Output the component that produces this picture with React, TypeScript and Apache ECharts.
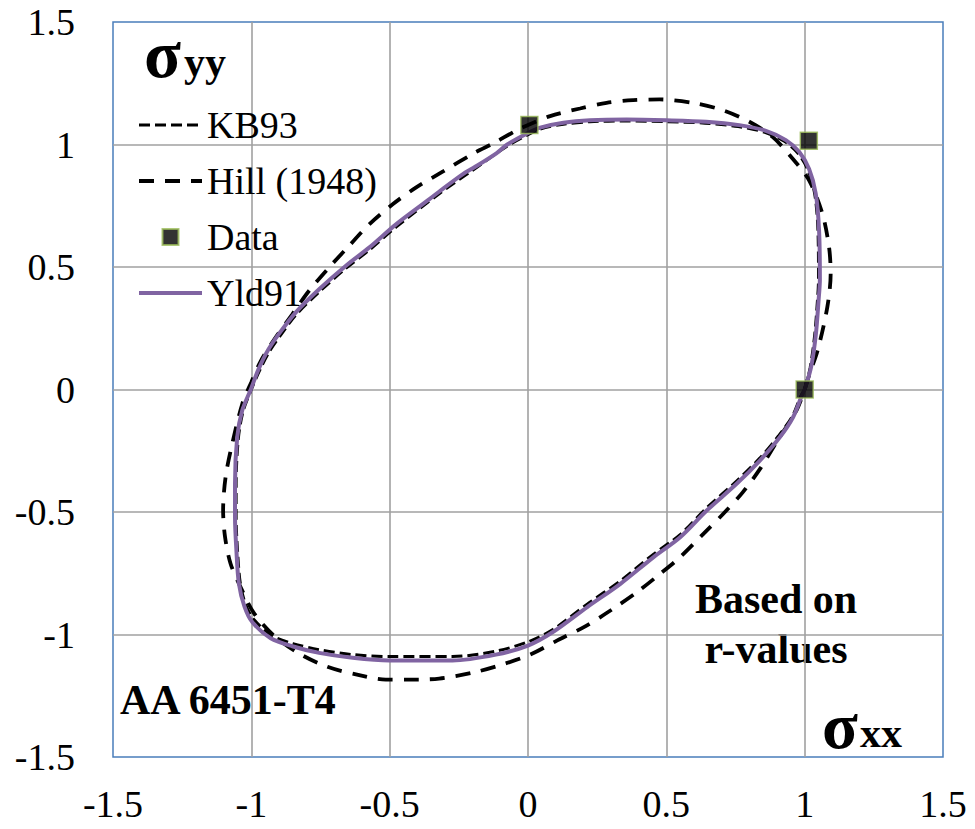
import React, { useEffect, useRef } from "react";
import * as echarts from "echarts";

// ---- data ----
const seriesNames = ["KB93", "Hill (1948)", "Data", "Yld91"];

const yld91: [number, number][] = [
  [1.0, 0.0], [1.023, 0.09], [1.04, 0.22], [1.05, 0.36], [1.055, 0.45],
  [1.052, 0.65], [1.04, 0.8], [1.016, 0.9], [0.98, 0.97], [0.932, 1.018],
  [0.86, 1.056], [0.764, 1.079], [0.644, 1.093], [0.5, 1.099], [0.356, 1.102],
  [0.224, 1.099], [0.128, 1.089], [0.044, 1.069], [0.0, 1.047], [-0.075, 1.0],
  [-0.113, 0.965], [-0.195, 0.906], [-0.234, 0.88], [-0.315, 0.813], [-0.355, 0.778],
  [-0.476, 0.675], [-0.573, 0.58], [-0.658, 0.505], [-0.755, 0.409], [-0.84, 0.314],
  [-0.895, 0.235], [-0.94, 0.16], [-0.975, 0.08], [-1.002, 0.0], [-1.033, -0.086],
  [-1.051, -0.194], [-1.059, -0.385], [-1.059, -0.52], [-1.054, -0.656], [-1.045, -0.792],
  [-1.025, -0.885], [-0.996, -0.95], [-0.93, -1.015], [-0.852, -1.048], [-0.755, -1.075],
  [-0.634, -1.095], [-0.502, -1.106], [-0.273, -1.106], [-0.116, -1.082], [0.0, -1.045],
  [0.09, -0.99], [0.214, -0.888], [0.334, -0.793], [0.454, -0.684], [0.55, -0.603],
  [0.646, -0.494], [0.754, -0.385], [0.838, -0.29], [0.91, -0.195], [0.958, -0.113],
  [0.988, -0.03], [1.0, 0.0],
];

const kb93: [number, number][] = [
  [1.0, 0.0], [1.02, 0.09], [1.036, 0.22], [1.046, 0.36], [1.05, 0.45],
  [1.048, 0.65], [1.036, 0.8], [1.01, 0.9], [0.975, 0.965], [0.928, 1.012],
  [0.856, 1.05], [0.76, 1.073], [0.64, 1.087], [0.5, 1.093], [0.356, 1.096],
  [0.224, 1.093], [0.128, 1.083], [0.044, 1.063], [0.0, 1.04], [-0.08, 0.99],
  [-0.2, 0.895], [-0.32, 0.8], [-0.476, 0.664], [-0.573, 0.57], [-0.66, 0.493],
  [-0.755, 0.398], [-0.84, 0.303], [-0.89, 0.228], [-0.935, 0.155], [-0.97, 0.078],
  [-1.0, 0.0], [-1.03, -0.09], [-1.047, -0.2], [-1.055, -0.385], [-1.055, -0.52],
  [-1.05, -0.656], [-1.04, -0.79], [-1.02, -0.88], [-0.99, -0.94], [-0.925, -1.005],
  [-0.85, -1.037], [-0.755, -1.062], [-0.634, -1.082], [-0.5, -1.09], [-0.273, -1.09],
  [-0.116, -1.068], [0.0, -1.03], [0.09, -0.98], [0.214, -0.876], [0.334, -0.781],
  [0.454, -0.672], [0.55, -0.592], [0.646, -0.483], [0.754, -0.374], [0.838, -0.28],
  [0.905, -0.19], [0.955, -0.11], [0.985, -0.03], [1.0, 0.0],
];

const hill1948: [number, number][] = [
  [1.0, 0.0], [1.018, 0.065], [1.047, 0.16], [1.082, 0.337], [1.094, 0.473],
  [1.088, 0.582], [1.064, 0.718], [1.016, 0.854], [0.956, 0.943], [0.884, 1.031],
  [0.8, 1.093], [0.704, 1.14], [0.596, 1.17], [0.476, 1.184], [0.38, 1.181],
  [0.284, 1.17], [0.188, 1.147], [0.08, 1.116], [-0.028, 1.065], [-0.125, 1.005],
  [-0.195, 0.965], [-0.307, 0.89], [-0.404, 0.825], [-0.488, 0.757], [-0.573, 0.675],
  [-0.652, 0.58], [-0.719, 0.498], [-0.792, 0.402], [-0.852, 0.307], [-0.913, 0.211],
  [-0.965, 0.118], [-1.0, 0.03], [-1.033, -0.06], [-1.069, -0.221], [-1.093, -0.357],
  [-1.102, -0.493], [-1.095, -0.602], [-1.075, -0.711], [-1.039, -0.806], [-0.99, -0.914],
  [-0.918, -1.005], [-0.828, -1.077], [-0.725, -1.132], [-0.622, -1.163], [-0.514, -1.184],
  [-0.429, -1.184], [-0.321, -1.18], [-0.2, -1.156], [-0.092, -1.122], [0.008, -1.082],
  [0.106, -1.024], [0.202, -0.97], [0.298, -0.902], [0.394, -0.827], [0.478, -0.752],
  [0.55, -0.684], [0.634, -0.589], [0.706, -0.507], [0.776, -0.42], [0.838, -0.325],
  [0.898, -0.215], [0.97, -0.086], [1.0, 0.0],
];

const measured: [number, number][] = [
  [0.005, 1.08],
  [1.015, 1.015],
  [1.0, 0.0],
];

const axisMin = -1.5;
const axisMax = 1.5;
const axisStep = 0.5;

const FONT = "Liberation Serif";

export default function App() {
  const ref = useRef<HTMLDivElement>(null);

  useEffect(() => {
    if (!ref.current) return;
    const chart = echarts.init(ref.current, undefined, { renderer: "svg" });

    const axisCommon = {
      type: "value" as const,
      min: axisMin,
      max: axisMax,
      interval: axisStep,
      axisLine: { show: false },
      axisTick: { show: false },
      splitLine: {
        show: true,
        showMinLine: false,
        showMaxLine: false,
        lineStyle: { color: "#a0a0a0", width: 1.6 },
      },
    };

    const hiddenSymbol = { opacity: 0 };

    const kbLine = { color: "#000", width: 3, type: [11, 5] };
    const hillLine = { color: "#000", width: 3.8, type: [15, 11] };
    const yldLine = { color: "#8064A2", width: 4 };

    const option: any = {
      animation: false,
      backgroundColor: "#ffffff",
      textStyle: { fontFamily: FONT },
      grid: {
        left: 113,
        right: 32,
        top: 22,
        bottom: 72,
        show: true,
        borderColor: "#4a7ebb",
        borderWidth: 1.5,
        backgroundColor: "transparent",
      },
      xAxis: {
        ...axisCommon,
        axisLabel: { fontFamily: FONT, fontWeight: "normal", fontSize: 38, color: "#000", margin: 28 },
      },
      yAxis: {
        ...axisCommon,
        axisLabel: { fontFamily: FONT, fontWeight: "normal", fontSize: 38, color: "#000", margin: 38 },
      },
      legend: {
        orient: "vertical",
        left: 137,
        top: 105,
        padding: 0,
        itemWidth: 63,
        itemHeight: 16,
        itemGap: 16,
        textStyle: { fontFamily: FONT, fontSize: 38, color: "#000", lineHeight: 40 },
        data: [
          { name: seriesNames[0], itemStyle: hiddenSymbol, lineStyle: { width: 3 } },
          { name: seriesNames[1], itemStyle: hiddenSymbol, lineStyle: { width: 3.8 } },
          { name: seriesNames[2], icon: "path://M0,0L10,0L10,10L0,10Z" },
          { name: seriesNames[3], itemStyle: hiddenSymbol, lineStyle: { width: 4 } },
        ],
      },
      series: [
        {
          name: "Hill (1948)",
          type: "line",
          data: hill1948,
          symbol: "none",
          smooth: 0.3,
          z: 2,
          lineStyle: hillLine,
          itemStyle: { color: "#000", opacity: 0 },
        },
        {
          name: "KB93",
          type: "line",
          data: kb93,
          symbol: "none",
          smooth: 0.3,
          z: 3,
          lineStyle: kbLine,
          itemStyle: { color: "#000", opacity: 0 },
        },
        {
          name: "Yld91",
          type: "line",
          data: yld91,
          symbol: "none",
          smooth: 0.3,
          z: 4,
          lineStyle: yldLine,
          itemStyle: { color: "#8064A2", opacity: 0 },
        },
        {
          name: "Data",
          type: "scatter",
          data: measured,
          symbol: "rect",
          symbolSize: 17,
          z: 5,
          itemStyle: { color: "#000", borderColor: "#9BBB59", borderWidth: 1.5 },
        },
      ],
      graphic: [
        {
          type: "text",
          x: 144,
          y: 54,
          style: { text: "σ", fontFamily: FONT, fontWeight: "bold", fontSize: 68, fill: "#000", align: "left", verticalAlign: "middle" },
        },
        {
          type: "text",
          x: 184,
          y: 62,
          style: { text: "yy", fontFamily: FONT, fontWeight: "bold", fontSize: 42, fill: "#000", align: "left", verticalAlign: "middle" },
        },
        {
          type: "text",
          x: 822,
          y: 725,
          style: { text: "σ", fontFamily: FONT, fontWeight: "bold", fontSize: 66, fill: "#000", align: "left", verticalAlign: "middle" },
        },
        {
          type: "text",
          x: 860,
          y: 733,
          style: { text: "xx", fontFamily: FONT, fontWeight: "bold", fontSize: 42, fill: "#000", align: "left", verticalAlign: "middle" },
        },
        {
          type: "text",
          x: 120,
          y: 700,
          style: { text: "AA 6451-T4", fontFamily: FONT, fontWeight: "bold", fontSize: 42, fill: "#000", align: "left", verticalAlign: "middle" },
        },
        {
          type: "text",
          x: 776,
          y: 599,
          style: { text: "Based on", fontFamily: FONT, fontWeight: "bold", fontSize: 42, fill: "#000", align: "center", verticalAlign: "middle" },
        },
        {
          type: "text",
          x: 776,
          y: 649,
          style: { text: "r-values", fontFamily: FONT, fontWeight: "bold", fontSize: 42, fill: "#000", align: "center", verticalAlign: "middle" },
        },
      ],
    };

    chart.setOption(option);
    return () => chart.dispose();
  }, []);

  return (
    <div
      ref={ref}
      style={{ position: "absolute", left: 0, top: 0, width: 975, height: 829, background: "#fff" }}
    />
  );
}
